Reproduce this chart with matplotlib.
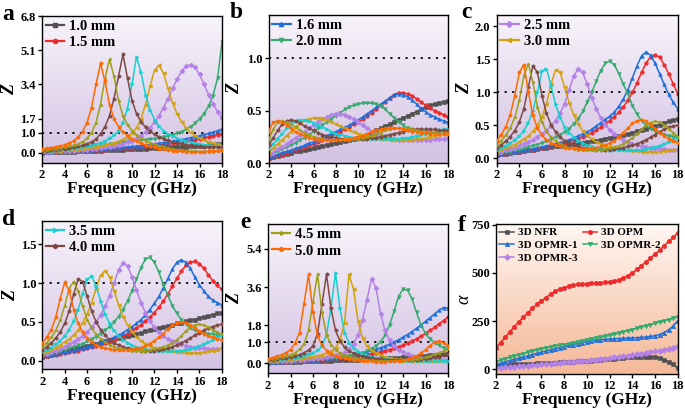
import numpy as np
import matplotlib
matplotlib.use('Agg')
import matplotlib.pyplot as plt
from matplotlib.colors import LinearSegmentedColormap
from matplotlib.lines import Line2D

# ---------------- data ----------------
FREQ = [2.0, 2.4, 2.8, 3.2, 3.6, 4.0, 4.4, 4.8, 5.2, 5.6, 6.0, 6.4, 6.8, 7.2, 7.6, 8.0,
        8.4, 8.8, 9.2, 9.6, 10.0, 10.4, 10.8, 11.2, 11.6, 12.0, 12.4, 12.8, 13.2, 13.6,
        14.0, 14.4, 14.8, 15.2, 15.6, 16.0, 16.4, 16.8, 17.2, 17.6, 18.0]

THICKNESS = ['1.0 mm', '1.5 mm', '1.6 mm', '2.0 mm', '2.5 mm',
             '3.0 mm', '3.5 mm', '4.0 mm', '4.5 mm', '5.0 mm']

# panel a (Z), rows in THICKNESS order
Z_A = [
    [0.02,0.03,0.03,0.04,0.05,0.05,0.06,0.07,0.08,0.08,0.09,0.10,0.11,0.12,0.13,0.14,0.15,0.16,0.17,0.18,0.19,0.20,0.21,0.22,0.23,0.24,0.25,0.26,0.27,0.28,0.29,0.30,0.31,0.32,0.33,0.35,0.36,0.38,0.40,0.42,0.44],
    [0.04,0.05,0.06,0.07,0.08,0.08,0.09,0.10,0.11,0.12,0.13,0.14,0.15,0.16,0.17,0.18,0.20,0.21,0.23,0.25,0.26,0.28,0.30,0.32,0.34,0.37,0.39,0.42,0.45,0.48,0.51,0.54,0.58,0.62,0.66,0.70,0.75,0.80,0.85,0.90,0.96],
    [0.05,0.06,0.07,0.08,0.09,0.10,0.11,0.12,0.13,0.14,0.15,0.16,0.18,0.19,0.21,0.22,0.24,0.26,0.28,0.30,0.32,0.34,0.36,0.39,0.42,0.45,0.48,0.51,0.55,0.58,0.62,0.66,0.70,0.75,0.80,0.85,0.91,0.97,1.03,1.10,1.18],
    [0.08,0.09,0.10,0.11,0.12,0.14,0.15,0.17,0.19,0.21,0.24,0.27,0.30,0.34,0.38,0.42,0.46,0.50,0.54,0.57,0.60,0.62,0.64,0.66,0.68,0.71,0.75,0.80,0.84,0.90,0.97,1.06,1.17,1.30,1.47,1.68,1.95,2.32,2.85,3.70,5.50],
    [0.05,0.06,0.07,0.08,0.09,0.10,0.11,0.12,0.14,0.15,0.17,0.19,0.21,0.24,0.27,0.30,0.34,0.39,0.45,0.52,0.61,0.72,0.86,1.03,1.25,1.52,1.85,2.25,2.70,3.20,3.65,4.05,4.30,4.38,4.25,3.90,3.40,2.90,2.45,2.05,1.72],
    [0.08,0.09,0.10,0.11,0.12,0.14,0.15,0.17,0.19,0.21,0.24,0.27,0.30,0.34,0.38,0.43,0.49,0.57,0.67,0.80,0.98,1.25,1.70,2.40,3.30,4.10,4.35,3.95,3.20,2.50,1.95,1.55,1.25,1.02,0.85,0.72,0.62,0.54,0.48,0.44,0.40],
    [0.10,0.11,0.12,0.14,0.16,0.18,0.20,0.23,0.26,0.29,0.33,0.38,0.44,0.51,0.60,0.72,0.88,1.10,1.50,2.20,3.40,4.78,4.00,2.90,2.15,1.65,1.32,1.10,0.95,0.83,0.73,0.65,0.58,0.53,0.48,0.44,0.41,0.38,0.36,0.35,0.34],
    [0.10,0.12,0.14,0.16,0.18,0.21,0.24,0.28,0.32,0.38,0.45,0.55,0.68,0.95,1.30,1.85,2.70,3.80,4.90,3.70,2.60,1.95,1.55,1.28,1.08,0.92,0.80,0.70,0.62,0.55,0.49,0.44,0.40,0.37,0.34,0.32,0.31,0.30,0.30,0.30,0.30],
    [0.15,0.17,0.19,0.22,0.25,0.28,0.32,0.37,0.44,0.55,0.72,1.00,1.50,2.40,3.70,4.65,3.80,2.60,1.85,1.40,1.10,0.88,0.72,0.60,0.50,0.42,0.35,0.29,0.24,0.20,0.16,0.13,0.11,0.09,0.08,0.07,0.07,0.07,0.07,0.08,0.09],
    [0.20,0.23,0.26,0.30,0.34,0.40,0.48,0.60,0.78,1.05,1.50,2.25,3.40,4.45,3.55,2.40,1.70,1.30,1.05,0.85,0.70,0.58,0.48,0.40,0.33,0.27,0.22,0.18,0.15,0.12,0.10,0.08,0.07,0.06,0.06,0.06,0.07,0.08,0.10,0.12,0.14],
]

# panel b (Z)
Z_B = [
    [0.05,0.06,0.07,0.08,0.09,0.10,0.11,0.115,0.12,0.13,0.14,0.15,0.16,0.17,0.18,0.19,0.20,0.21,0.22,0.23,0.24,0.26,0.27,0.29,0.31,0.33,0.35,0.37,0.39,0.41,0.43,0.45,0.47,0.49,0.51,0.53,0.55,0.56,0.57,0.58,0.59],
    [0.05,0.06,0.07,0.08,0.10,0.11,0.12,0.14,0.15,0.17,0.18,0.20,0.22,0.24,0.26,0.28,0.30,0.32,0.34,0.37,0.39,0.42,0.45,0.48,0.51,0.55,0.58,0.62,0.65,0.67,0.67,0.66,0.64,0.61,0.58,0.55,0.52,0.50,0.48,0.46,0.44],
    [0.06,0.07,0.08,0.10,0.11,0.12,0.14,0.15,0.17,0.19,0.20,0.22,0.24,0.26,0.28,0.30,0.32,0.34,0.36,0.39,0.41,0.44,0.47,0.50,0.53,0.56,0.59,0.62,0.65,0.66,0.65,0.63,0.60,0.56,0.52,0.49,0.46,0.44,0.42,0.40,0.39],
    [0.07,0.09,0.11,0.13,0.15,0.17,0.19,0.22,0.24,0.27,0.30,0.33,0.36,0.39,0.42,0.45,0.48,0.51,0.53,0.55,0.56,0.57,0.57,0.57,0.56,0.54,0.51,0.47,0.43,0.39,0.36,0.33,0.31,0.30,0.29,0.29,0.29,0.29,0.30,0.30,0.30],
    [0.08,0.10,0.13,0.15,0.18,0.21,0.24,0.27,0.30,0.33,0.36,0.39,0.42,0.44,0.46,0.47,0.47,0.46,0.44,0.42,0.39,0.36,0.33,0.30,0.28,0.26,0.25,0.24,0.23,0.22,0.22,0.22,0.22,0.22,0.22,0.22,0.22,0.23,0.23,0.23,0.24],
    [0.10,0.14,0.18,0.22,0.26,0.30,0.34,0.38,0.41,0.42,0.43,0.43,0.42,0.41,0.39,0.37,0.35,0.33,0.31,0.30,0.28,0.27,0.26,0.25,0.24,0.23,0.23,0.22,0.22,0.22,0.22,0.22,0.22,0.23,0.23,0.24,0.25,0.26,0.27,0.28,0.29],
    [0.13,0.18,0.23,0.28,0.33,0.37,0.40,0.41,0.41,0.40,0.38,0.36,0.34,0.32,0.30,0.28,0.27,0.26,0.25,0.24,0.24,0.23,0.23,0.23,0.23,0.23,0.23,0.23,0.23,0.23,0.24,0.24,0.25,0.26,0.27,0.28,0.29,0.30,0.31,0.32,0.32],
    [0.17,0.24,0.31,0.37,0.40,0.41,0.40,0.38,0.35,0.33,0.31,0.29,0.27,0.26,0.25,0.24,0.23,0.23,0.23,0.23,0.23,0.23,0.23,0.24,0.24,0.25,0.26,0.27,0.28,0.29,0.30,0.31,0.32,0.32,0.32,0.32,0.32,0.32,0.31,0.31,0.31],
    [0.22,0.32,0.39,0.40,0.39,0.37,0.34,0.31,0.29,0.27,0.25,0.24,0.23,0.22,0.22,0.22,0.22,0.22,0.22,0.23,0.23,0.24,0.25,0.26,0.28,0.29,0.31,0.32,0.33,0.33,0.33,0.33,0.32,0.31,0.30,0.30,0.29,0.29,0.28,0.28,0.28],
    [0.30,0.39,0.40,0.39,0.36,0.33,0.30,0.28,0.26,0.24,0.23,0.22,0.22,0.22,0.22,0.22,0.22,0.23,0.23,0.24,0.25,0.26,0.28,0.30,0.31,0.32,0.33,0.33,0.33,0.33,0.32,0.31,0.30,0.30,0.29,0.29,0.28,0.28,0.28,0.28,0.28],
]

# panel c (Z)
Z_C = [
    [0.05,0.06,0.07,0.08,0.09,0.10,0.11,0.12,0.13,0.14,0.15,0.16,0.17,0.18,0.19,0.20,0.21,0.22,0.23,0.24,0.25,0.26,0.27,0.28,0.30,0.31,0.32,0.34,0.35,0.37,0.39,0.41,0.43,0.45,0.47,0.49,0.51,0.54,0.56,0.58,0.60],
    [0.05,0.06,0.07,0.08,0.09,0.10,0.11,0.12,0.13,0.14,0.16,0.17,0.19,0.20,0.22,0.24,0.26,0.28,0.30,0.33,0.36,0.39,0.43,0.47,0.52,0.57,0.63,0.70,0.78,0.88,1.00,1.14,1.30,1.44,1.54,1.57,1.53,1.42,1.28,1.13,0.98],
    [0.06,0.07,0.08,0.09,0.10,0.11,0.12,0.13,0.14,0.16,0.17,0.19,0.20,0.22,0.24,0.26,0.28,0.31,0.34,0.37,0.40,0.44,0.49,0.54,0.59,0.64,0.70,0.79,0.90,1.04,1.22,1.40,1.55,1.61,1.56,1.44,1.28,1.12,0.97,0.85,0.75],
    [0.07,0.08,0.09,0.10,0.12,0.13,0.15,0.17,0.19,0.21,0.23,0.26,0.29,0.32,0.36,0.40,0.45,0.52,0.60,0.71,0.85,1.00,1.17,1.33,1.44,1.47,1.42,1.28,1.12,0.97,0.80,0.67,0.57,0.50,0.45,0.41,0.38,0.36,0.34,0.33,0.32],
    [0.08,0.10,0.12,0.14,0.16,0.19,0.22,0.25,0.28,0.32,0.37,0.42,0.49,0.57,0.68,0.83,1.03,1.25,1.35,1.30,1.12,0.92,0.75,0.61,0.51,0.43,0.37,0.32,0.28,0.25,0.22,0.20,0.18,0.17,0.16,0.15,0.14,0.14,0.13,0.13,0.13],
    [0.10,0.12,0.15,0.18,0.21,0.25,0.29,0.34,0.41,0.50,0.63,0.82,1.12,1.34,1.30,1.08,0.84,0.66,0.52,0.42,0.35,0.29,0.25,0.22,0.19,0.17,0.15,0.14,0.13,0.12,0.11,0.11,0.10,0.10,0.10,0.10,0.10,0.11,0.12,0.13,0.14],
    [0.12,0.15,0.19,0.23,0.28,0.34,0.42,0.54,0.72,1.00,1.32,1.36,1.10,0.82,0.62,0.48,0.39,0.32,0.27,0.23,0.20,0.18,0.16,0.15,0.14,0.13,0.13,0.12,0.12,0.12,0.12,0.13,0.13,0.14,0.16,0.17,0.19,0.22,0.25,0.28,0.31],
    [0.15,0.20,0.26,0.33,0.42,0.55,0.75,1.08,1.40,1.30,0.95,0.68,0.51,0.40,0.32,0.27,0.23,0.20,0.18,0.16,0.15,0.14,0.13,0.13,0.13,0.13,0.14,0.15,0.16,0.18,0.20,0.22,0.25,0.28,0.32,0.36,0.40,0.44,0.47,0.49,0.50],
    [0.20,0.27,0.35,0.46,0.62,0.88,1.25,1.43,1.15,0.78,0.55,0.41,0.32,0.26,0.22,0.19,0.16,0.14,0.13,0.12,0.12,0.12,0.12,0.13,0.14,0.15,0.17,0.19,0.22,0.26,0.31,0.37,0.44,0.50,0.54,0.56,0.55,0.51,0.45,0.39,0.33],
    [0.27,0.36,0.48,0.66,0.95,1.30,1.42,1.00,0.65,0.46,0.35,0.28,0.23,0.20,0.18,0.16,0.15,0.15,0.14,0.14,0.15,0.15,0.16,0.18,0.20,0.23,0.27,0.32,0.39,0.46,0.53,0.57,0.58,0.56,0.51,0.45,0.39,0.34,0.30,0.27,0.24],
]

# panel d (Z)
Z_D = [
    [0.05,0.06,0.08,0.09,0.11,0.12,0.14,0.15,0.16,0.18,0.19,0.21,0.22,0.24,0.25,0.26,0.28,0.29,0.31,0.32,0.33,0.35,0.36,0.38,0.39,0.41,0.42,0.43,0.45,0.46,0.48,0.49,0.51,0.52,0.53,0.55,0.56,0.58,0.59,0.61,0.62],
    [0.05,0.06,0.07,0.08,0.09,0.10,0.11,0.12,0.13,0.15,0.16,0.18,0.19,0.21,0.23,0.25,0.27,0.30,0.32,0.35,0.38,0.42,0.46,0.51,0.56,0.62,0.69,0.77,0.86,0.96,1.06,1.15,1.23,1.27,1.28,1.25,1.19,1.11,1.03,0.97,0.92],
    [0.06,0.07,0.08,0.09,0.10,0.11,0.12,0.13,0.15,0.16,0.18,0.19,0.21,0.23,0.25,0.28,0.30,0.33,0.36,0.40,0.44,0.48,0.53,0.59,0.66,0.74,0.83,0.94,1.06,1.18,1.27,1.30,1.27,1.19,1.08,0.98,0.90,0.83,0.78,0.75,0.72],
    [0.07,0.08,0.09,0.11,0.12,0.14,0.16,0.18,0.20,0.22,0.25,0.28,0.31,0.35,0.39,0.44,0.50,0.57,0.66,0.77,0.90,1.05,1.20,1.31,1.33,1.27,1.14,0.98,0.84,0.71,0.61,0.53,0.47,0.42,0.39,0.37,0.35,0.34,0.34,0.33,0.33],
    [0.08,0.09,0.11,0.13,0.15,0.18,0.21,0.24,0.28,0.32,0.37,0.43,0.50,0.59,0.70,0.84,1.00,1.17,1.26,1.22,1.08,0.91,0.75,0.62,0.51,0.43,0.37,0.32,0.28,0.25,0.23,0.21,0.19,0.18,0.17,0.16,0.16,0.15,0.15,0.15,0.16],
    [0.09,0.11,0.14,0.17,0.20,0.24,0.28,0.33,0.40,0.49,0.60,0.75,0.93,1.10,1.16,1.08,0.90,0.72,0.57,0.46,0.37,0.31,0.26,0.22,0.19,0.17,0.15,0.14,0.13,0.12,0.11,0.11,0.10,0.10,0.10,0.10,0.11,0.12,0.13,0.14,0.16],
    [0.11,0.14,0.17,0.21,0.26,0.32,0.40,0.51,0.66,0.86,1.05,1.09,0.96,0.77,0.60,0.48,0.39,0.32,0.27,0.23,0.20,0.18,0.16,0.15,0.14,0.13,0.13,0.12,0.12,0.12,0.13,0.13,0.14,0.15,0.17,0.19,0.21,0.24,0.27,0.30,0.33],
    [0.14,0.18,0.23,0.29,0.37,0.48,0.64,0.86,1.05,1.02,0.83,0.64,0.50,0.40,0.33,0.27,0.23,0.20,0.18,0.16,0.15,0.14,0.13,0.13,0.13,0.13,0.14,0.15,0.16,0.18,0.20,0.23,0.26,0.29,0.33,0.36,0.39,0.42,0.44,0.46,0.47],
    [0.18,0.23,0.30,0.39,0.52,0.71,0.93,1.02,0.90,0.70,0.53,0.42,0.34,0.28,0.24,0.20,0.18,0.16,0.15,0.14,0.13,0.13,0.13,0.13,0.14,0.15,0.16,0.18,0.20,0.23,0.27,0.32,0.38,0.43,0.46,0.47,0.46,0.43,0.40,0.37,0.34],
    [0.23,0.30,0.40,0.56,0.80,1.01,0.90,0.66,0.48,0.37,0.29,0.24,0.20,0.18,0.16,0.15,0.14,0.14,0.14,0.14,0.15,0.16,0.17,0.19,0.22,0.26,0.30,0.35,0.41,0.46,0.49,0.50,0.49,0.46,0.42,0.38,0.35,0.32,0.30,0.28,0.27],
]

# panel e (Z)
Z_E = [
    [0.03,0.04,0.05,0.05,0.06,0.07,0.07,0.08,0.09,0.10,0.10,0.11,0.12,0.13,0.13,0.14,0.15,0.16,0.17,0.17,0.18,0.19,0.20,0.21,0.22,0.23,0.24,0.25,0.26,0.27,0.28,0.29,0.30,0.32,0.33,0.35,0.37,0.39,0.41,0.43,0.45],
    [0.04,0.05,0.06,0.07,0.08,0.09,0.10,0.11,0.12,0.13,0.14,0.15,0.17,0.18,0.20,0.22,0.24,0.26,0.29,0.31,0.34,0.37,0.41,0.45,0.49,0.54,0.59,0.65,0.71,0.78,0.86,0.95,1.05,1.16,1.28,1.41,1.55,1.70,1.86,2.02,2.19],
    [0.05,0.06,0.07,0.08,0.09,0.10,0.11,0.12,0.13,0.15,0.16,0.18,0.20,0.22,0.24,0.27,0.30,0.33,0.36,0.40,0.44,0.49,0.54,0.60,0.66,0.73,0.81,0.90,1.00,1.11,1.23,1.36,1.50,1.65,1.81,1.98,2.15,2.33,2.50,2.63,2.62],
    [0.07,0.08,0.08,0.09,0.10,0.11,0.12,0.13,0.14,0.15,0.17,0.18,0.20,0.22,0.24,0.26,0.29,0.32,0.35,0.39,0.44,0.50,0.58,0.68,0.82,1.02,1.32,1.80,2.45,3.15,3.50,3.45,3.05,2.40,1.80,1.40,1.15,0.98,0.85,0.73,0.62],
    [0.08,0.09,0.10,0.11,0.12,0.13,0.15,0.16,0.18,0.20,0.22,0.24,0.27,0.30,0.34,0.38,0.44,0.53,0.68,0.92,1.35,2.05,3.00,4.00,3.55,2.35,1.55,1.10,0.82,0.64,0.52,0.43,0.36,0.31,0.27,0.24,0.22,0.20,0.19,0.18,0.17],
    [0.10,0.11,0.13,0.14,0.16,0.18,0.20,0.22,0.25,0.28,0.32,0.36,0.41,0.48,0.57,0.72,1.10,1.90,4.20,3.50,2.00,1.20,0.80,0.60,0.47,0.38,0.31,0.26,0.22,0.19,0.17,0.15,0.13,0.12,0.11,0.10,0.10,0.09,0.09,0.09,0.09],
    [0.12,0.14,0.16,0.18,0.21,0.24,0.27,0.31,0.36,0.42,0.50,0.61,0.80,1.35,2.60,4.27,2.60,1.45,0.98,0.72,0.56,0.45,0.37,0.31,0.27,0.23,0.20,0.18,0.16,0.14,0.13,0.12,0.11,0.11,0.10,0.10,0.10,0.10,0.11,0.11,0.12],
    [0.15,0.17,0.20,0.23,0.26,0.30,0.35,0.41,0.49,0.62,0.82,1.40,2.80,4.20,2.60,1.55,1.05,0.76,0.58,0.47,0.39,0.33,0.29,0.25,0.22,0.20,0.18,0.17,0.16,0.15,0.15,0.15,0.16,0.17,0.19,0.21,0.24,0.28,0.32,0.37,0.42],
    [0.18,0.21,0.25,0.29,0.34,0.40,0.48,0.66,0.90,1.55,2.90,4.20,2.40,1.35,0.88,0.63,0.48,0.38,0.31,0.26,0.22,0.19,0.16,0.14,0.13,0.12,0.11,0.11,0.11,0.12,0.13,0.14,0.16,0.19,0.23,0.28,0.34,0.42,0.50,0.58,0.66],
    [0.22,0.27,0.33,0.40,0.50,0.64,0.95,1.45,2.80,4.20,2.40,1.30,0.85,0.60,0.46,0.36,0.29,0.24,0.20,0.17,0.14,0.12,0.10,0.09,0.08,0.08,0.08,0.09,0.10,0.12,0.15,0.19,0.25,0.34,0.47,0.64,0.84,0.99,1.04,0.97,0.82],
]

# panel f (attenuation constant)
SAMPLES = ['3D NFR', '3D OPM', '3D OPMR-1', '3D OPMR-2', '3D OPMR-3']
ALPHA_NFR = [18,20,22,23,25,26,27,28,29,30,31,32,33,34,35,36,37,38,40,41,43,45,47,49,51,53,55,57,59,61,63,64,65,65,64,61,56,49,39,25,5]
ALPHA_OPM = [111,138,165,193,220,245,270,293,316,337,355,372,389,404,415,423,430,436,440,442,444,446,447,449,451,453,457,464,473,485,500,518,538,557,577,597,618,641,663,684,708]
ALPHA_OPMR1 = [22,30,37,44,51,57,63,69,76,82,88,94,100,106,112,117,123,128,133,138,143,147,150,153,155,157,158,159,160,161,162,163,165,167,170,174,180,190,204,224,252]
ALPHA_OPMR2 = [38,46,54,61,68,75,81,88,94,100,105,110,115,119,124,128,132,137,141,146,150,155,160,165,170,175,181,187,193,199,205,212,218,225,231,238,244,251,257,264,270]
ALPHA_OPMR3 = [5,7,9,11,13,15,17,19,21,23,25,27,29,31,33,35,37,39,41,43,45,48,50,53,55,58,61,64,67,70,73,77,80,84,88,92,96,101,106,112,120]

# ---------------- style ----------------
COLORS = ['#505050', '#EE2B2B', '#1F6FDB', '#35A96E', '#B482E6',
          '#D2A10C', '#18CFCF', '#7E4B44', '#9E9E18', '#FF6A00']
MARKERS = ['s', 'o', '^', 'v', 'D', '<', '>', 'h', '*', 'p']

plt.rcParams['font.family'] = ['Liberation Serif', 'DejaVu Serif']
plt.rcParams['font.weight'] = 'bold'
plt.rcParams['axes.linewidth'] = 1.0

fig = plt.figure(figsize=(6.85, 4.08), dpi=100)
W, H = 685.0, 408.0


def add_axes(l, t, r, b):
    return fig.add_axes([l / W, 1 - b / H, (r - l) / W, (b - t) / H])


def gradient(ax, top, bottom):
    cmap = LinearSegmentedColormap.from_list('g', [bottom, top])
    grad = np.linspace(0, 1, 256).reshape(-1, 1)
    ax.imshow(grad, cmap=cmap, aspect='auto', extent=[0, 1, 0, 1],
              transform=ax.transAxes, origin='lower', zorder=0,
              interpolation='bilinear')


def style_axis(ax, ylim, yticks, ylabel, ylab_x, italic_bold=True):
    ax.set_xlim(2, 18)
    ax.set_ylim(*ylim)
    ax.set_xticks([2, 4, 6, 8, 10, 12, 14, 16, 18])
    ax.set_yticks(yticks)
    ax.tick_params(direction='out', length=3, width=1, labelsize=9, pad=1.5)
    for lab in ax.get_xticklabels() + ax.get_yticklabels():
        lab.set_fontweight('bold')
    ax.set_xlabel('Frequency (GHz)', fontsize=12.5, fontweight='bold', labelpad=0)
    ax.set_ylabel(ylabel, fontsize=13, fontweight='bold' if italic_bold else 'normal',
                  fontstyle='italic')
    ax.yaxis.set_label_coords(ylab_x, 0.5)


PANELS = [
    # data, box (l, t, r, b), ylim, yticks, tick labels, legend idx, ylabel x
    (Z_A, (42, 16, 222, 163), (-0.5, 6.8), [0, 1.0, 1.7, 3.4, 5.1, 6.8],
     ['0.0', '1.0', '1.7', '3.4', '5.1', '6.8'], (0, 1), -0.133),
    (Z_B, (268.7, 15, 448, 163), (0, 1.41), [0, 0.5, 1.0],
     ['0.0', '0.5', '1.0'], (2, 3), -0.143),
    (Z_C, (496.7, 15, 677.7, 163), (-0.07, 2.17), [0, 0.5, 1.0, 1.5, 2.0],
     ['0.0', '0.5', '1.0', '1.5', '2.0'], (4, 5), -0.131),
    (Z_D, (42.3, 221, 221.7, 369.3), (-0.11, 1.8), [0, 0.5, 1.0, 1.5],
     ['0.0', '0.5', '1.0', '1.5'], (6, 7), -0.132),
    (Z_E, (268, 224.3, 448, 373.3), (-0.47, 6.56), [0, 1.0, 1.8, 3.6, 5.4],
     ['0.0', '1.0', '1.8', '3.6', '5.4'], (8, 9), -0.139),
]

for data, box, ylim, yt, ytl, leg_idx, ylx in PANELS:
    ax = add_axes(*box)
    gradient(ax, '#F8F4FA', '#D3C2E3')
    ax.axhline(1.0, color='black', linestyle=(0, (1.2, 3.0)), linewidth=1.3, zorder=1.5)
    for i, ys in enumerate(data):
        ax.plot(FREQ, ys, color=COLORS[i], marker=MARKERS[i], markersize=2.6,
                markeredgewidth=0.4, linewidth=1.1, zorder=2 + i * 0.1)
    style_axis(ax, ylim, yt, 'Z', ylx)
    ax.set_yticklabels(ytl)
    handles = [Line2D([], [], color=COLORS[k], marker=MARKERS[k], markersize=3,
                      linewidth=1.6, label=THICKNESS[k]) for k in leg_idx]
    ax.legend(handles=handles, loc='upper left', frameon=False, fontsize=10.5,
              handlelength=1.25, handletextpad=0.35, labelspacing=0.22,
              borderaxespad=0.15, borderpad=0.1)

# panel f
axf = add_axes(496, 224.3, 677.7, 374)
gradient(axf, '#FFF7F3', '#F4B897')
series_f = [ALPHA_NFR, ALPHA_OPM, ALPHA_OPMR1, ALPHA_OPMR2, ALPHA_OPMR3]
f_colors = ['#505050', '#EE2B2B', '#1F6FDB', '#35A96E', '#B482E6']
f_markers = ['s', 'o', '^', 'v', 'D']
lines = []
for i, ys in enumerate(series_f):
    ln, = axf.plot(FREQ, ys, color=f_colors[i], marker=f_markers[i], markersize=3.2,
                   markeredgewidth=0.4, linewidth=1.1, label=SAMPLES[i], zorder=2 + i * 0.1)
    lines.append(ln)
style_axis(axf, (-25, 752), [0, 250, 500, 750], 'α', -0.132, italic_bold=False)
axf.set_yticklabels(['0', '250', '500', '750'])
order = [0, 2, 4, 1, 3]
axf.legend(handles=[lines[k] for k in order], loc='upper left', ncol=2, frameon=False,
           fontsize=8, handlelength=1.3, handletextpad=0.35, labelspacing=0.25,
           columnspacing=0.5, borderaxespad=0.15, borderpad=0.15)

# panel letters
for letter, x, y in [('a', 2, 20), ('b', 230, 18), ('c', 461, 18),
                     ('d', 2, 225), ('e', 240, 228), ('f', 458, 231)]:
    fig.text(x / W, 1 - y / H, letter, fontsize=17, fontweight='bold',
             ha='left', va='baseline')

fig.savefig('out.png', dpi=100)
